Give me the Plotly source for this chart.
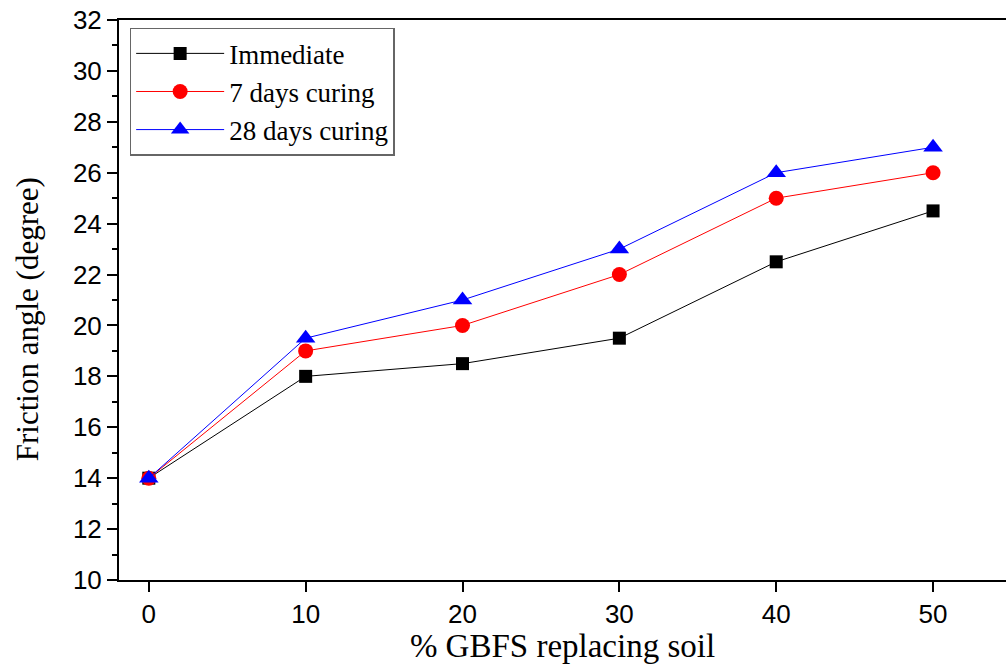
import plotly.graph_objects as go

# GBFS replacement percentages and friction angle results
gbfs_pct = [0, 10, 20, 30, 40, 50]
immediate = [14, 18, 18.5, 19.5, 22.5, 24.5]
cured_7d = [14, 19, 20, 22, 25, 26]
cured_28d = [14, 19.5, 21, 23, 26, 27]

x_ticks = [0, 10, 20, 30, 40, 50]
y_ticks = [10, 12, 14, 16, 18, 20, 22, 24, 26, 28, 30, 32]

series = [
    ("Immediate", immediate, "black", "square", 13),
    ("7 days curing", cured_7d, "red", "circle", 15),
    ("28 days curing", cured_28d, "blue", "triangle-up", 17),
]

fig = go.Figure()
for name, vals, color, symbol, size in series:
    fig.add_trace(go.Scatter(
        x=gbfs_pct, y=vals, name=name, mode="lines+markers",
        line=dict(color=color, width=1),
        marker=dict(symbol=symbol, size=size, color=color, line=dict(width=0)),
    ))

fig.update_layout(
    width=1006, height=664,
    margin=dict(l=119, r=0, t=20, b=84),
    paper_bgcolor="white", plot_bgcolor="white",
    showlegend=True,
    legend=dict(
        x=0.012, y=0.986, xanchor="left", yanchor="top",
        bgcolor="white", bordercolor="#666666", borderwidth=1.5,
        font=dict(family="Liberation Serif", size=27, color="black"),
        tracegroupgap=0, itemwidth=88,
    ),
    annotations=[dict(
        text="Friction angle (degree)", textangle=-90,
        xref="paper", yref="paper", x=-0.103, y=0.465,
        xanchor="center", yanchor="middle", showarrow=False,
        font=dict(family="Liberation Serif", size=31, color="black"),
    )],
)

fig.update_xaxes(
    range=[-1.9, 54.65], tickvals=x_ticks,
    showline=True, linecolor="black", linewidth=2, mirror=True,
    ticks="outside", ticklen=10, tickwidth=2, tickcolor="black",
    showgrid=False, zeroline=False,
    tickfont=dict(family="Liberation Sans", size=26, color="black"),
    title=dict(text="% GBFS replacing soil", standoff=6,
               font=dict(family="Liberation Serif", size=33, color="black")),
)
fig.update_yaxes(
    range=[10, 32], tickvals=y_ticks,
    showline=True, linecolor="black", linewidth=2, mirror=False,
    ticks="outside", ticklen=10, tickwidth=2, tickcolor="black",
    minor=dict(dtick=1, tick0=10, ticks="outside", ticklen=5, tickwidth=2, tickcolor="black"),
    showgrid=False, zeroline=False,
    tickfont=dict(family="Liberation Sans", size=26, color="black"),
)

fig.write_html("out.html")
